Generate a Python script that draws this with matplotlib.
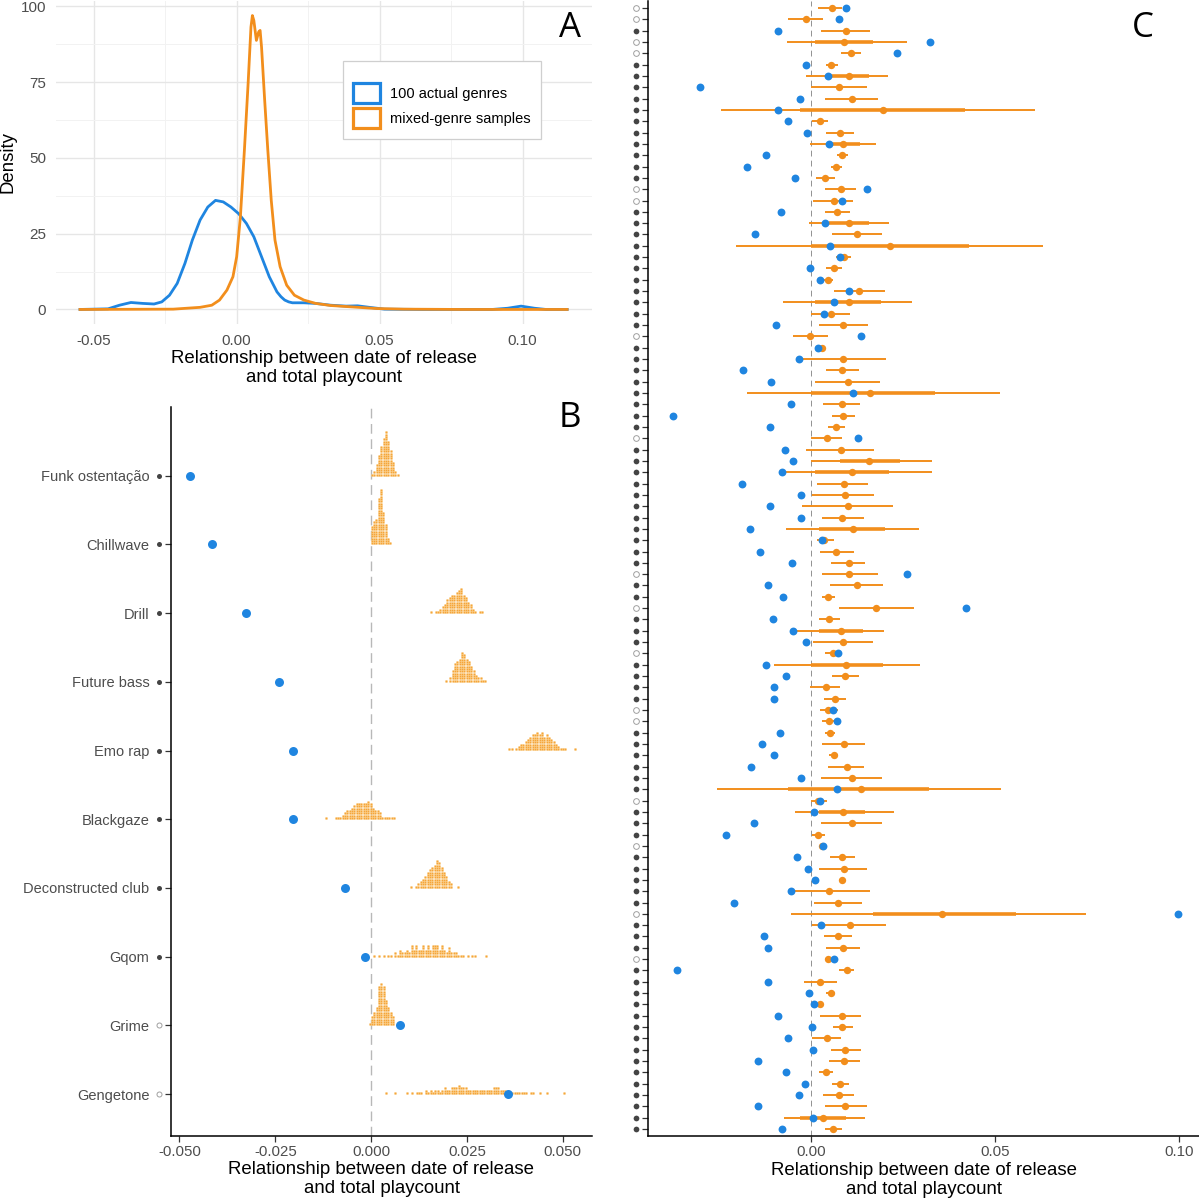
import numpy as np
import matplotlib.pyplot as plt
from matplotlib.patches import Patch
from matplotlib.transforms import ScaledTranslation

plt.rcParams['font.family'] = ['Liberation Sans', 'DejaVu Sans']

W, H = 1199, 1200
BLUE = '#1f85e0'
ORANGE = '#f28e1c'
DOT_FACE = '#f5a53a'
DOT_EDGE = '#fbd596'
TICK_GREY = '#4d4d4d'

# ---- panel A: density of the relationship (actual genres vs mixed samples)
actual_x = [-0.0548, -0.045, -0.041, -0.037, -0.0329, -0.0289, -0.0262, -0.0235, -0.0208, -0.0181,
            -0.0155, -0.0128, -0.0101, -0.0074, -0.0047, -0.0020, 0.0007, 0.0034, 0.0060, 0.0087,
            0.0114, 0.0141, 0.0155, 0.0168, 0.0182, 0.0195, 0.0235, 0.0276, 0.0329, 0.0383,
            0.0423, 0.0464, 0.0517, 0.0652, 0.0894, 0.0948, 0.0995, 0.1042, 0.1082, 0.1156]
actual_y = [0, 0.2, 1.4, 2.3, 2.0, 1.8, 2.5, 4.7, 8.6, 15.2,
            22.9, 29.5, 33.8, 36.0, 35.5, 33.8, 31.6, 28.4, 24.0, 17.4,
            10.8, 5.8, 4.2, 3.1, 2.5, 2.2, 2.2, 2.0, 1.4, 1.1,
            1.2, 0.7, 0.1, 0, 0, 0.4, 1.1, 0.4, 0, 0]
mixed_x = [-0.0548, -0.0222, -0.0128, -0.0087, -0.0060, -0.0034, -0.0013, 0.0000, 0.0013, 0.0027,
           0.0040, 0.0050, 0.0055, 0.0060, 0.0069, 0.0077, 0.0082, 0.0087, 0.0098, 0.0109,
           0.0121, 0.0134, 0.0152, 0.0175, 0.0202, 0.0235, 0.0276, 0.0329, 0.0410, 0.0491,
           0.0585, 0.0786, 0.1156]
mixed_y = [0, 0.1, 0.7, 1.4, 3.1, 6.4, 10.8, 17.4, 30.5, 52.5,
           74.5, 93.2, 97.0, 95.4, 88.8, 91.6, 92.1, 86.6, 69.0, 52.5,
           36.0, 22.9, 14.1, 8.0, 4.7, 3.1, 2.0, 1.3, 0.8, 0.3,
           0.1, 0, 0]

# ---- panel B: ten example genres, actual value + dotplot of mixed samples
genres = ['Funk ostentação', 'Chillwave', 'Drill', 'Future bass', 'Emo rap',
          'Blackgaze', 'Deconstructed club', 'Gqom', 'Grime', 'Gengetone']
genre_filled = [True, True, True, True, True, True, True, True, False, False]
genre_actual = [-0.0472, -0.0415, -0.0326, -0.0241, -0.0203,
                -0.0203, -0.0067, -0.0017, 0.0076, 0.0357]
dot_binwidth = 0.00061
dot_start = [0.0002, 0.0001, 0.0156, 0.0194, 0.0360, -0.0117, 0.0105, 0.0008, -0.0004, 0.0039]
dot_counts = [
    [1, 2, 5, 9, 13, 16, 19, 15, 11, 6, 2, 1],
    [8, 10, 11, 20, 24, 14, 9, 3, 1],
    [1, 0, 1, 1, 2, 3, 4, 6, 7, 8, 8, 9, 10, 11, 8, 7, 5, 4, 2, 1, 0, 1, 1],
    [1, 0, 2, 5, 8, 9, 10, 13, 12, 10, 9, 7, 5, 3, 2, 2, 1, 1],
    [1, 1, 0, 1, 2, 3, 3, 4, 5, 6, 7, 7, 8, 7, 8, 6, 7, 6, 5, 4, 3, 2, 1, 1, 1, 0, 0, 0, 1],
    [1, 0, 0, 0, 1, 1, 1, 2, 3, 4, 4, 5, 6, 7, 7, 7, 7, 7, 8, 7, 5, 4, 4, 3, 1, 1, 1, 1, 1, 1],
    [1, 0, 1, 2, 3, 4, 5, 7, 8, 9, 10, 12, 11, 9, 7, 5, 3, 2, 0, 0, 1],
    [1, 0, 1, 0, 1, 0, 1, 1, 0, 2, 1, 3, 2, 2, 3, 2, 5, 3, 5, 3, 3, 5, 3, 5, 3,
     5, 5, 5, 3, 5, 3, 2, 4, 2, 2, 2, 1, 1, 1, 0, 1, 0, 1, 1, 0, 0, 0, 0, 1],
    [1, 4, 6, 8, 17, 18, 17, 11, 8, 6, 4],
    [1, 0, 0, 0, 1, 0, 0, 0, 0, 1, 0, 1, 0, 1, 1, 1, 0, 2, 1, 2,
     1, 2, 2, 1, 2, 3, 2, 2, 3, 3, 3, 4, 3, 3, 3, 2, 2, 2, 2, 2,
     2, 2, 2, 2, 2, 2, 3, 3, 3, 2, 2, 2, 1, 1, 1, 1, 1, 1, 1, 1,
     1, 0, 1, 1, 0, 0, 1, 0, 0, 1, 0, 0, 0, 0, 0, 0, 1],
]

# ---- panel C: all 100 genres (top to bottom)
c_actual = [0.0095, 0.0075, -0.0092, 0.0323, 0.0232, -0.0016, 0.0046, -0.0303, -0.0032, -0.0090,
            -0.0065, -0.0012, 0.0049, -0.0125, -0.0175, -0.0046, 0.0150, 0.0082, -0.0084, 0.0038,
            -0.0155, 0.0050, 0.0078, -0.0004, 0.0023, 0.0101, 0.0062, 0.0034, -0.0096, 0.0135,
            0.0018, -0.0035, -0.0186, -0.0111, 0.0113, -0.0057, -0.0376, -0.0112, 0.0127, -0.0072,
            -0.0050, -0.0081, -0.0188, -0.0028, -0.0113, -0.0028, -0.0168, 0.0030, -0.0139, -0.0052,
            0.0260, -0.0117, -0.0077, 0.0420, -0.0105, -0.0049, -0.0015, 0.0071, -0.0124, -0.0068,
            -0.0101, -0.0102, 0.0058, 0.0070, -0.0085, -0.0136, -0.0103, -0.0164, -0.0029, 0.0070,
            0.0024, 0.0008, -0.0156, -0.0234, 0.0031, -0.0040, -0.0009, 0.0009, -0.0055, -0.0212,
            0.0998, 0.0027, -0.0129, -0.0118, 0.0062, -0.0367, -0.0119, -0.0008, 0.0008, -0.0092,
            0.0001, -0.0064, 0.0004, -0.0146, -0.0069, -0.0018, -0.0034, -0.0146, 0.0004, -0.0081]
c_mixed = [0.0055, -0.0015, 0.0095, 0.0088, 0.0107, 0.0053, 0.0103, 0.0075, 0.0110, 0.0196,
           0.0023, 0.0079, 0.0085, 0.0084, 0.0067, 0.0037, 0.0080, 0.0061, 0.0069, 0.0101,
           0.0123, 0.0214, 0.0088, 0.0062, 0.0045, 0.0130, 0.0103, 0.0053, 0.0086, -0.0005,
           0.0029, 0.0087, 0.0083, 0.0099, 0.0159, 0.0083, 0.0087, 0.0066, 0.0043, 0.0081,
           0.0157, 0.0111, 0.0088, 0.0091, 0.0099, 0.0084, 0.0114, 0.0035, 0.0068, 0.0101,
           0.0103, 0.0123, 0.0046, 0.0176, 0.0048, 0.0080, 0.0085, 0.0059, 0.0093, 0.0091,
           0.0039, 0.0064, 0.0046, 0.0048, 0.0050, 0.0088, 0.0061, 0.0097, 0.0109, 0.0135,
           0.0017, 0.0085, 0.0109, 0.0017, 0.0029, 0.0084, 0.0088, 0.0083, 0.0049, 0.0073,
           0.0355, 0.0105, 0.0072, 0.0087, 0.0046, 0.0097, 0.0024, 0.0052, 0.0022, 0.0082,
           0.0082, 0.0042, 0.0092, 0.0088, 0.0040, 0.0079, 0.0074, 0.0092, 0.0031, 0.0059]
c_lo = [0.0018, -0.0063, 0.0025, -0.0066, 0.0080, 0.0039, -0.0014, -0.0002, 0.0038, -0.0245,
        0.0001, 0.0039, -0.0005, 0.0070, 0.0052, 0.0012, 0.0037, 0.0003, 0.0038, -0.0008,
        0.0057, -0.0205, 0.0068, 0.0039, 0.0034, 0.0060, -0.0078, -0.0002, 0.0020, -0.0049,
        0.0021, -0.0026, 0.0039, 0.0009, -0.0176, 0.0032, 0.0057, 0.0044, 0.0000, -0.0016,
        -0.0001, -0.0081, 0.0014, 0.0001, -0.0025, 0.0030, -0.0068, 0.0016, 0.0024, 0.0053,
        0.0030, 0.0051, 0.0029, 0.0075, 0.0021, -0.0042, 0.0003, 0.0038, -0.0103, 0.0056,
        -0.0004, 0.0034, 0.0023, 0.0029, 0.0038, 0.0029, 0.0049, 0.0046, 0.0027, -0.0256,
        0.0000, -0.0046, 0.0025, 0.0001, 0.0023, 0.0050, 0.0020, 0.0075, -0.0044, 0.0007,
        -0.0057, 0.0001, 0.0035, 0.0040, 0.0037, 0.0075, -0.0021, 0.0040, 0.0014, 0.0024,
        0.0058, 0.0001, 0.0053, 0.0049, 0.0020, 0.0057, 0.0032, 0.0036, -0.0075, 0.0036]
c_hi = [0.0082, 0.0031, 0.0160, 0.0259, 0.0134, 0.0071, 0.0208, 0.0151, 0.0180, 0.0608,
        0.0045, 0.0117, 0.0177, 0.0100, 0.0082, 0.0063, 0.0121, 0.0113, 0.0106, 0.0212,
        0.0191, 0.0629, 0.0107, 0.0082, 0.0059, 0.0201, 0.0274, 0.0106, 0.0154, 0.0045,
        0.0038, 0.0204, 0.0129, 0.0186, 0.0512, 0.0131, 0.0119, 0.0090, 0.0084, 0.0169,
        0.0328, 0.0329, 0.0155, 0.0169, 0.0221, 0.0143, 0.0294, 0.0062, 0.0115, 0.0147,
        0.0182, 0.0196, 0.0065, 0.0279, 0.0078, 0.0197, 0.0168, 0.0079, 0.0296, 0.0130,
        0.0079, 0.0094, 0.0071, 0.0066, 0.0064, 0.0147, 0.0072, 0.0143, 0.0191, 0.0517,
        0.0042, 0.0226, 0.0192, 0.0036, 0.0037, 0.0118, 0.0152, 0.0090, 0.0158, 0.0137,
        0.0747, 0.0203, 0.0111, 0.0132, 0.0058, 0.0115, 0.0069, 0.0064, 0.0031, 0.0135,
        0.0112, 0.0081, 0.0134, 0.0133, 0.0059, 0.0101, 0.0117, 0.0150, 0.0147, 0.0083]
# inner (thick) interval, only where it is wide enough to read
c_inner = {4: (0.0010, 0.0168), 7: (0.0052, 0.0157), 10: (-0.0031, 0.0419),
           13: (0.0042, 0.0131), 20: (0.0047, 0.0157), 22: (0.0000, 0.0430),
           27: (0.0010, 0.0189), 35: (0.0000, 0.0335), 41: (0.0079, 0.0241),
           42: (0.0010, 0.0210), 47: (0.0021, 0.0199), 56: (0.0021, 0.0140),
           59: (0.0000, 0.0194), 70: (-0.0063, 0.0320), 72: (0.0021, 0.0147),
           81: (0.0168, 0.0556), 99: (-0.0031, 0.0094)}
c_open_rows = [1, 2, 4, 5, 17, 18, 30, 39, 51, 54, 58, 63, 64, 71, 75, 81, 85]


def px_axes(left, top, right, bottom):
    return [left / W, 1 - bottom / H, (right - left) / W, (bottom - top) / H]


def side_markers(ax, y, filled, offset_px, size):
    tr = ax.get_yaxis_transform() + ScaledTranslation(-offset_px / 100, 0, fig.dpi_scale_trans)
    y = np.asarray(y)
    filled = np.asarray(filled)
    ax.scatter(np.zeros(filled.sum()), y[filled], transform=tr, clip_on=False,
               s=size, color='#444444', linewidths=0, zorder=5)
    ax.scatter(np.zeros((~filled).sum()), y[~filled], transform=tr, clip_on=False,
               s=size, facecolors='white', edgecolors='#a0a0a0', linewidths=0.7, zorder=5)


def classic(ax):
    for s in ['top', 'right']:
        ax.spines[s].set_visible(False)
    for s in ['left', 'bottom']:
        ax.spines[s].set_linewidth(1.1)
        ax.spines[s].set_color('black')
    ax.tick_params(axis='x', length=4.5, width=0.9, color='#333333', pad=2,
                   labelsize=10.8, labelcolor=TICK_GREY)
    ax.tick_params(axis='y', length=4.5, width=0.9, color='#333333', pad=11,
                   labelsize=10.5, labelcolor=TICK_GREY)


XLAB = 'Relationship between date of release\nand total playcount'
fig = plt.figure(figsize=(W / 100, H / 100), dpi=100)

# ================= A =================
axA = fig.add_axes(px_axes(56, 1, 592, 324))
axA.plot(actual_x, actual_y, color=BLUE, lw=2.0, solid_joinstyle='round')
axA.plot(mixed_x, mixed_y, color=ORANGE, lw=2.0, solid_joinstyle='round')
axA.set_xlim(-0.0632, 0.1243)
axA.set_ylim(-4.8, 101.8)
axA.set_xticks([-0.05, 0.0, 0.05, 0.10])
axA.set_xticklabels(['-0.05', '0.00', '0.05', '0.10'])
axA.set_xticks([-0.025, 0.025, 0.075], minor=True)
axA.set_yticks([0, 25, 50, 75, 100])
axA.set_yticks([12.5, 37.5, 62.5, 87.5], minor=True)
axA.grid(which='major', color='#e6e6e6', lw=1.0)
axA.grid(which='minor', color='#f2f2f2', lw=0.7)
axA.set_axisbelow(True)
for s in axA.spines.values():
    s.set_visible(False)
axA.tick_params(which='both', length=0, labelsize=11, labelcolor=TICK_GREY, pad=7)
handles = [Patch(facecolor='white', edgecolor=BLUE, linewidth=2.3),
           Patch(facecolor='white', edgecolor=ORANGE, linewidth=2.3)]
leg = axA.legend(handles, ['100 actual genres', 'mixed-genre samples'],
                 loc='upper left', bbox_to_anchor=(0.521, 0.836), fontsize=10.5,
                 title=' ', title_fontsize=5,
                 handlelength=1.85, handleheight=1.75, labelspacing=0.33,
                 handletextpad=0.7, borderpad=0.7, fancybox=False, framealpha=1)
leg.get_frame().set_edgecolor('#cfcfcf')
leg.get_frame().set_linewidth(0.9)
fig.text(8 / W, 1 - 162 / H, 'Density', rotation=90, ha='center', va='center', fontsize=13.4)
fig.text(324 / W, 1 - 368 / H, XLAB, ha='center', va='center', fontsize=13.4)

# ================= B =================
axB = fig.add_axes(px_axes(171, 407, 592, 1136))
n = len(genres)
b_rows = np.arange(n, 0, -1)
dy = 0.034
xs, ys = [], []
for row, start, counts in zip(b_rows, dot_start, dot_counts):
    for j, c in enumerate(counts):
        for k in range(c):
            xs.append(start + j * dot_binwidth)
            ys.append(row + (k + 0.5) * dy)
axB.axvline(0, color='#b8b8b8', lw=1.0, ls=(0, (7, 4)), zorder=1)
axB.scatter(xs, ys, s=3.0, facecolors=DOT_FACE, edgecolors=DOT_EDGE, linewidths=0.3, zorder=2)
axB.scatter(genre_actual, b_rows, s=42, color=BLUE, linewidths=0, zorder=3)
axB.set_xlim(-0.0522, 0.0576)
axB.set_ylim(0.39, 11.0)
axB.set_xticks([-0.05, -0.025, 0.0, 0.025, 0.05])
axB.set_xticklabels(['-0.050', '-0.025', '0.000', '0.025', '0.050'])
axB.set_yticks(b_rows)
axB.set_yticklabels(genres)
classic(axB)
side_markers(axB, b_rows, genre_filled, 12.5, 13)
fig.text(381.5 / W, 1 - 1179 / H, XLAB, ha='center', va='center', fontsize=13.4)

# ================= C =================
axC = fig.add_axes(px_axes(648, 1, 1199, 1136))
m = len(c_actual)
c_rows = np.arange(1, m + 1)
c_y = m + 1 - c_rows
axC.axvline(0, color='#808080', lw=0.6, ls=(0, (7, 5)), zorder=1)
axC.hlines(c_y, c_lo, c_hi, color=ORANGE, lw=1.4, zorder=2)
for r, (lo, hi) in c_inner.items():
    axC.hlines(m + 1 - r, lo, hi, color=ORANGE, lw=2.6, zorder=2)
axC.scatter(c_mixed, c_y, s=28, color=ORANGE, linewidths=0, zorder=3)
axC.scatter(c_actual, c_y, s=32, color=BLUE, linewidths=0, zorder=4)
axC.set_xlim(-0.0445, 0.1055)
axC.set_ylim(0.38, m + 0.62)
axC.set_xticks([0.0, 0.05, 0.10])
axC.set_xticklabels(['0.00', '0.05', '0.10'])
axC.set_yticks(c_y)
axC.set_yticklabels([])
classic(axC)
c_filled = [r not in c_open_rows for r in c_rows]
side_markers(axC, c_y, c_filled, 12.5, 17)
fig.text(923.5 / W, 1 - 1180 / H, XLAB, ha='center', va='center', fontsize=13.4)

# panel letters
for lab, x, y in [('A', 570, 28), ('B', 570, 418), ('C', 1143, 28)]:
    fig.text(x / W, 1 - y / H, lab, ha='center', va='center', fontsize=25,
             family=['Open Sans', 'DejaVu Sans'])

fig.savefig('out.png', dpi=100)
